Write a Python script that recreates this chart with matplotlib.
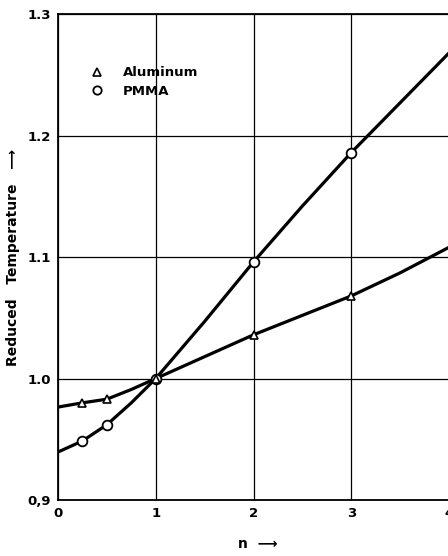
import matplotlib
matplotlib.use("Agg")
import matplotlib.pyplot as plt
from matplotlib.lines import Line2D

# curves
n_curve = [0, 0.25, 0.5, 0.75, 1, 1.5, 2, 2.5, 3, 3.5, 4]
pmma_curve = [0.9395, 0.9486, 0.962, 0.980, 1.0, 1.047, 1.096, 1.142, 1.186, 1.227, 1.268]
alu_curve = [0.9765, 0.980, 0.983, 0.991, 1.0, 1.018, 1.036, 1.052, 1.068, 1.087, 1.108]

# measured points
n_pts = [0.25, 0.5, 1, 2, 3]
pmma_pts = [0.9486, 0.962, 1.0, 1.096, 1.186]
alu_pts = [0.980, 0.983, 1.0, 1.036, 1.068]

xticks = [0, 1, 2, 3, 4]
yticks = [0.9, 1.0, 1.1, 1.2, 1.3]
ytick_labels = ["0,9", "1.0", "1.1", "1.2", "1.3"]

font = ["DejaVu Sans"]

fig = plt.figure(figsize=(4.48, 5.56), dpi=100)
ax = fig.add_axes([0.1295, 0.1007, 0.8728, 0.874])

ax.plot(n_curve, pmma_curve, color="black", lw=2.3, solid_capstyle="round", zorder=3)
ax.plot(n_curve, alu_curve, color="black", lw=2.3, solid_capstyle="round", zorder=3)
ax.plot(n_pts, pmma_pts, "o", ms=7, mfc="white", mec="black", mew=1.3, zorder=4)
ax.plot(n_pts, alu_pts, "^", ms=5.5, mfc="white", mec="black", mew=1.2, zorder=4)

ax.set_xlim(0, 4)
ax.set_ylim(0.9, 1.3)
ax.set_xticks(xticks)
ax.set_yticks(yticks)
ax.set_xticklabels([str(t) for t in xticks], family=font, weight="bold", fontsize=9.5)
ax.set_yticklabels(ytick_labels, family=font, weight="bold", fontsize=9.5)
ax.tick_params(length=0, pad=5)
ax.grid(True, color="black", lw=0.9)
for s in ax.spines.values():
    s.set_linewidth(1.3)

handles = [
    Line2D([], [], ls="none", marker="^", ms=5.5, mfc="white", mec="black", mew=1.2),
    Line2D([], [], ls="none", marker="o", ms=6, mfc="white", mec="black", mew=1.3),
]
ax.legend(handles, ["Aluminum", "PMMA"], loc="upper left", bbox_to_anchor=(0.035, 0.917),
          frameon=False, handletextpad=1.0, labelspacing=0.4,
          prop={"family": font, "weight": "bold", "size": 9.5})

ax.set_ylabel("Reduced   Temperature   \u27f6", family=font, weight="bold", fontsize=10)
ax.yaxis.set_label_coords(-0.097, 0.5)
fig.text(0.575, 0.015, "n  \u27f6", family=font, weight="bold", fontsize=10, ha="center")

fig.savefig("out.png", dpi=100)
